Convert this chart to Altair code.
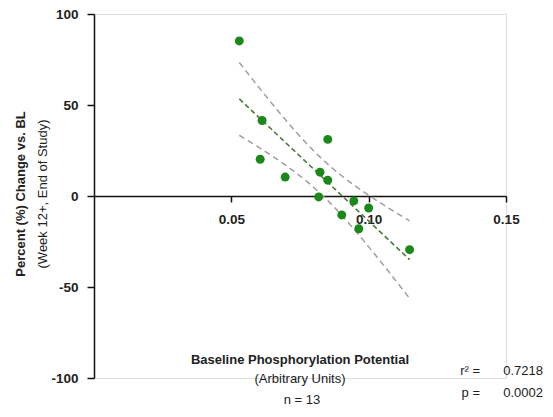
import altair as alt
import pandas as pd
import numpy as np

# Data
phos = [0.0529, 0.0612, 0.0605, 0.0696, 0.0851, 0.0823, 0.0851, 0.0818,
        0.0946, 0.1000, 0.0902, 0.0964, 0.1149]
change = [85.2, 41.5, 20.2, 10.4, 31.1, 13.1, 8.7, -0.5,
          -2.7, -6.6, -10.4, -18.0, -29.5]
x_ticks = [0.05, 0.10, 0.15]
y_ticks = [-100, -50, 0, 50, 100]
stats_labels = ["r\u00b2 =", "p ="]
stats_values = ["0.7218", "0.0002"]

pts = pd.DataFrame({"x": phos, "y": change})

# 95% confidence band of the linear fit, derived from the points
xa = np.array(phos)
ya = np.array(change)
n = len(xa)
b, a = np.polyfit(xa, ya, 1)
resid = ya - (a + b * xa)
s = np.sqrt(np.sum(resid ** 2) / (n - 2))
sxx = np.sum((xa - xa.mean()) ** 2)
t_crit = 2.201  # t(0.975, df=11)
grid = np.linspace(xa.min(), xa.max(), 60)
fit = a + b * grid
half = t_crit * s * np.sqrt(1.0 / n + (grid - xa.mean()) ** 2 / sxx)
band = pd.DataFrame({"x": np.concatenate([grid, grid]),
                     "y": np.concatenate([fit + half, fit - half]),
                     "side": ["upper"] * len(grid) + ["lower"] * len(grid)})

W, H = 412, 364
FONT = "Liberation Sans"

xscale = alt.Scale(domain=[0, 0.15], nice=False, zero=False)
yscale = alt.Scale(domain=[-100, 100], nice=False, zero=False)

xaxis = alt.Axis(values=x_ticks, format=".2f", title=None, offset=-H / 2,
                 labelFontWeight="bold", labelFontSize=13.5, labelFont=FONT,
                 labelColor="#222222", tickSize=6, labelPadding=10,
                 domainColor="#111111", tickColor="#111111",
                 domainWidth=1.5, tickWidth=1.5, grid=False,
                 labelFlush=False)
yaxis = alt.Axis(values=y_ticks, title=None,
                 labelExpr="toString(datum.value)",
                 labelFontWeight="bold", labelFontSize=13.5, labelFont=FONT,
                 labelColor="#222222", tickSize=7, labelPadding=9,
                 domainColor="#111111", tickColor="#111111",
                 domainWidth=1.5, tickWidth=1.5, grid=False)

points = alt.Chart(pts).mark_circle(size=80, color="#1a891a", opacity=1).encode(
    x=alt.X("x:Q", scale=xscale, axis=xaxis),
    y=alt.Y("y:Q", scale=yscale, axis=yaxis),
)

reg = alt.Chart(pts).transform_regression("x", "y", method="linear").mark_line(
    color="#4d7d35", strokeWidth=1.6, strokeDash=[5, 3]
).encode(x=alt.X("x:Q", scale=xscale), y=alt.Y("y:Q", scale=yscale))

ci = alt.Chart(band).mark_line(
    color="#a0a0a0", strokeWidth=1.5, strokeDash=[6, 4]
).encode(x=alt.X("x:Q", scale=xscale), y=alt.Y("y:Q", scale=yscale),
         detail="side:N")

def txt(text, x, y, size=13, weight="normal", align="center", angle=0):
    return alt.Chart(pd.DataFrame({"t": [text]})).mark_text(
        font=FONT, fontSize=size, fontWeight=weight, align=align,
        baseline="middle", angle=angle, color="#222222"
    ).encode(text="t:N", x=alt.value(x), y=alt.value(y))

texts = [
    txt("Percent (%) Change vs. BL", -73, 180, weight="bold", angle=270),
    txt("(Week 12+, End of Study)", -51, 180, angle=270),
    txt("Baseline Phosphorylation Potential", 206, 346, weight="bold"),
    txt("(Arbitrary Units)", 206, 365),
    txt("n = 13", 208, 386),
    txt(stats_labels[0], 386, 357, align="right"),
    txt(stats_values[0], 449, 357, align="right"),
    txt(stats_labels[1], 386, 379, align="right"),
    txt(stats_values[1], 449, 379, align="right"),
]

chart = alt.layer(ci, reg, points, *texts).properties(
    width=W, height=H,
    autosize=alt.AutoSizeParams(type="none"),
    padding={"left": 86, "top": 6, "right": 39, "bottom": 31},
).configure_view(stroke=None).configure(background="white")

chart.save("out.html", embed_options={"renderer": "svg", "actions": False})
